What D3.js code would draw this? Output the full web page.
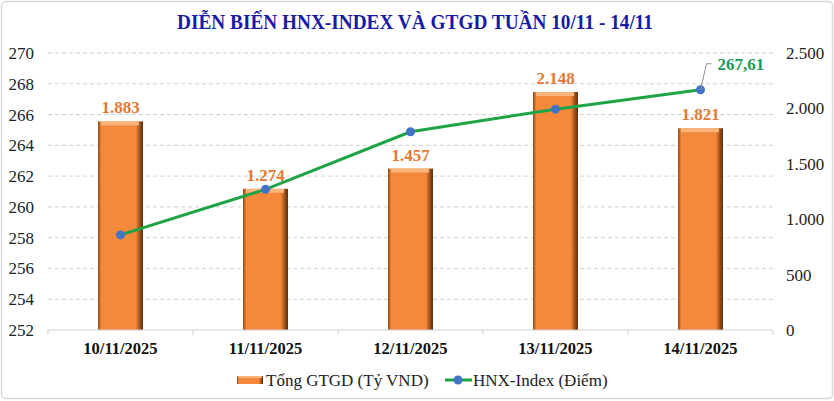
<!DOCTYPE html>
<html>
<head>
<meta charset="utf-8">
<script src="https://cdn.jsdelivr.net/npm/d3@7"></script>
<style>
  body { margin: 0; background: #fff; }
  text { font-family: "Liberation Serif", "Times New Roman", serif; }
</style>
</head>
<body>
<div class="chart"></div>
<script>
var dates = ["10/11/2025", "11/11/2025", "12/11/2025", "13/11/2025", "14/11/2025"];
var gtgd = [1883, 1274, 1457, 2148, 1821];
var hnx = [258.18, 261.14, 264.88, 266.35, 267.61];
var leftTicks = [252, 254, 256, 258, 260, 262, 264, 266, 268, 270];
var rightTicks = [0, 500, 1000, 1500, 2000, 2500];

var W = 834, H = 401;
var margin = {top: 53, right: 61, bottom: 71, left: 48};
var width = W - margin.left - margin.right;
var height = H - margin.top - margin.bottom;
var serif = "'Liberation Serif', 'Times New Roman', serif";

var svg = d3.select(".chart").append("svg")
    .attr("width", W)
    .attr("height", H);

// bar gradient (bevelled look)
var defs = svg.append("defs");
var grad = defs.append("linearGradient").attr("id", "barGrad")
    .attr("x1", "0").attr("x2", "1").attr("y1", "0").attr("y2", "0");
grad.append("stop").attr("offset", "0%").attr("stop-color", "#8a4516");
grad.append("stop").attr("offset", "7%").attr("stop-color", "#f5883a");
grad.append("stop").attr("offset", "84%").attr("stop-color", "#f5883a");
grad.append("stop").attr("offset", "92%").attr("stop-color", "#a8561e");
grad.append("stop").attr("offset", "100%").attr("stop-color", "#5a2c0c");

// outer frame
svg.append("rect")
    .attr("x", 1.5).attr("y", 1.5)
    .attr("width", W - 3).attr("height", H - 4)
    .attr("rx", 4)
    .attr("fill", "#fff")
    .attr("stroke", "#d9d9d9")
    .attr("stroke-width", 1.5);

svg.append("text")
    .attr("x", 415).attr("y", 29)
    .attr("text-anchor", "middle")
    .attr("font-size", 21)
    .attr("font-weight", "bold")
    .attr("fill", "#1a1aa8")
    .attr("textLength", 476)
    .attr("lengthAdjust", "spacingAndGlyphs")
    .text("DIỄN BIẾN HNX-INDEX VÀ GTGD TUẦN 10/11 - 14/11");

var g = svg.append("g")
    .attr("transform", "translate(" + margin.left + "," + margin.top + ")");

var x = d3.scaleBand().domain(dates).range([0, width]).paddingInner(0.69).paddingOuter(0.345);
var yL = d3.scaleLinear().domain([252, 270]).range([height, 0]);
var yR = d3.scaleLinear().domain([0, 2500]).range([height, 0]);
var xc = function(d) { return x(d) + x.bandwidth() / 2; };
var dotFmt = function(d) { return d3.format(",")(d).replace(/,/g, "."); };

// grid
g.append("g").selectAll("line")
    .data(leftTicks.slice(1))
    .enter().append("line")
    .attr("x1", 0).attr("x2", width)
    .attr("y1", function(d) { return yL(d); })
    .attr("y2", function(d) { return yL(d); })
    .attr("stroke", "#d0d0d0")
    .attr("stroke-dasharray", "4,3");

// left axis
var axL = g.append("g").call(d3.axisLeft(yL).tickValues(leftTicks).tickSize(0).tickPadding(14));
axL.attr("font-family", serif).attr("font-size", 17);
axL.select(".domain").remove();
axL.selectAll("text").attr("fill", "#222");

// right axis
var axR = g.append("g").attr("transform", "translate(" + width + ",0)")
    .call(d3.axisRight(yR).tickValues(rightTicks).tickSize(0).tickPadding(13).tickFormat(dotFmt));
axR.attr("font-family", serif).attr("font-size", 17);
axR.select(".domain").remove();
axR.selectAll("text").attr("fill", "#222");

// bars
var bars = g.append("g").selectAll("g")
    .data(gtgd)
    .enter().append("g");
bars.append("rect")
    .attr("x", function(d, i) { return x(dates[i]); })
    .attr("y", function(d) { return yR(d); })
    .attr("width", x.bandwidth())
    .attr("height", function(d) { return height - yR(d); })
    .attr("fill", "url(#barGrad)");
// top bevel
bars.append("rect")
    .attr("x", function(d, i) { return x(dates[i]) + 3; })
    .attr("y", function(d) { return yR(d); })
    .attr("width", x.bandwidth() - 7)
    .attr("height", 4)
    .attr("fill", "#fbb47a");

bars.append("text")
    .attr("x", function(d, i) { return xc(dates[i]); })
    .attr("y", function(d) { return yR(d) - 8; })
    .attr("text-anchor", "middle")
    .attr("font-size", 17)
    .attr("font-weight", "bold")
    .attr("fill", "#e07a35")
    .text(dotFmt);

// x axis baseline
g.append("line")
    .attr("x1", 0).attr("x2", width)
    .attr("y1", height).attr("y2", height)
    .attr("stroke", "#d0d0d0");
g.append("g").selectAll("line")
    .data(d3.range(dates.length + 1))
    .enter().append("line")
    .attr("x1", function(i) { return i * x.step(); })
    .attr("x2", function(i) { return i * x.step(); })
    .attr("y1", height).attr("y2", height + 5)
    .attr("stroke", "#d0d0d0");
g.append("g").selectAll("text")
    .data(dates)
    .enter().append("text")
    .attr("x", xc)
    .attr("y", height + 24)
    .attr("text-anchor", "middle")
    .attr("font-size", 16.5)
    .attr("font-weight", "bold")
    .attr("fill", "#111")
    .text(function(d) { return d; });

// HNX line
var line = d3.line()
    .x(function(d, i) { return xc(dates[i]); })
    .y(function(d) { return yL(d); });
g.append("path")
    .datum(hnx)
    .attr("d", line)
    .attr("fill", "none")
    .attr("stroke", "#1ea445")
    .attr("stroke-width", 3);
g.append("g").selectAll("circle")
    .data(hnx)
    .enter().append("circle")
    .attr("cx", function(d, i) { return xc(dates[i]); })
    .attr("cy", function(d) { return yL(d); })
    .attr("r", 4.5)
    .attr("fill", "#4472c4");

// label for last point
var last = hnx.length - 1;
var lx = xc(dates[last]), ly = yL(hnx[last]);
g.append("path")
    .attr("d", "M" + lx + "," + ly + "L" + (lx + 6) + "," + (ly - 26) + "L" + (lx + 11) + "," + (ly - 26))
    .attr("fill", "none")
    .attr("stroke", "#8c8c8c")
    .attr("stroke-width", 1);
g.append("text")
    .attr("x", lx + 17)
    .attr("y", ly - 20)
    .attr("font-size", 17)
    .attr("font-weight", "bold")
    .attr("fill", "#1a9a55")
    .text(d3.format(".2f")(hnx[last]).replace(".", ","));

// legend
var leg = svg.append("g").attr("transform", "translate(0,380)");
leg.append("rect")
    .attr("x", 237).attr("y", -4).attr("width", 26).attr("height", 8)
    .attr("fill", "url(#barGrad)");
leg.append("rect")
    .attr("x", 238).attr("y", -4).attr("width", 24).attr("height", 2)
    .attr("fill", "#fbb47a");
leg.append("text")
    .attr("x", 266).attr("y", 6)
    .attr("font-size", 17)
    .attr("fill", "#222")
    .text("Tổng GTGD (Tỷ VND)");
leg.append("line")
    .attr("x1", 445).attr("x2", 472).attr("y1", 0).attr("y2", 0)
    .attr("stroke", "#1ea445").attr("stroke-width", 3);
leg.append("circle")
    .attr("cx", 458).attr("cy", 0).attr("r", 4.5)
    .attr("fill", "#4472c4");
leg.append("text")
    .attr("x", 473).attr("y", 6)
    .attr("font-size", 17)
    .attr("fill", "#222")
    .text("HNX-Index (Điểm)");
</script>
</body>
</html>
